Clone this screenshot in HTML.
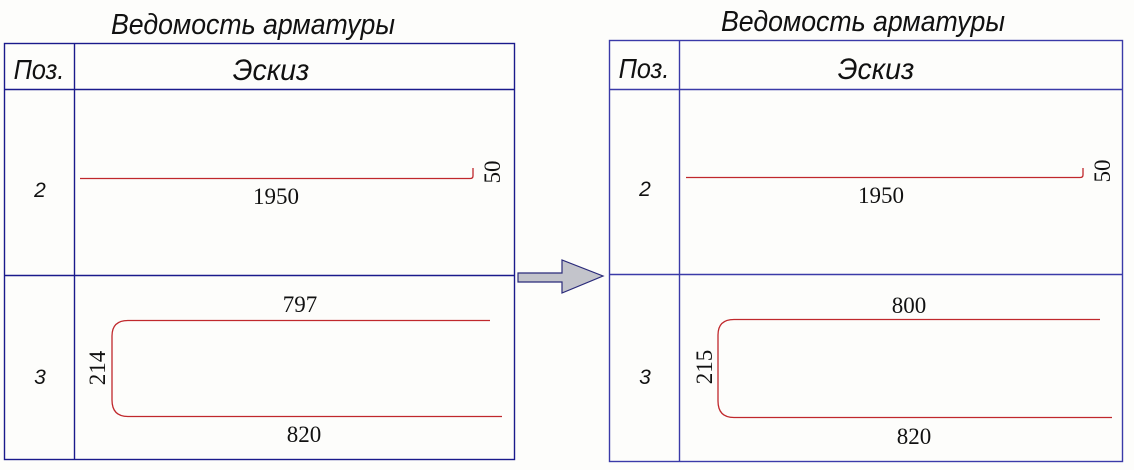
<!DOCTYPE html>
<html><head><meta charset="utf-8"><style>
html,body{margin:0;padding:0;background:#fdfdfb;}
svg{display:block;}
.g{font-family:"Liberation Sans",sans-serif;font-style:italic;fill:#111;}
.n{font-family:"Liberation Serif",serif;fill:#111;font-size:23px;}
</style></head><body>
<svg width="1134" height="470" viewBox="0 0 1134 470" xmlns="http://www.w3.org/2000/svg">
<rect width="1134" height="470" fill="#fdfdfb"/>
<!-- Left table -->
<text class="g" x="253" y="34" font-size="29" text-anchor="middle" transform="translate(253 0) scale(0.92 1) translate(-253 0)">Ведомость арматуры</text>
<g stroke="#1a1a8c" stroke-width="1.4" fill="none">
<rect x="4.5" y="43.5" width="510" height="416"/>
<line x1="74.5" y1="43" x2="74.5" y2="460"/>
<line x1="4" y1="89.5" x2="515" y2="89.5"/>
<line x1="4" y1="275.5" x2="515" y2="275.5"/>
</g>
<text class="g" x="39" y="79" font-size="28" text-anchor="middle" transform="translate(39 0) scale(0.9 1) translate(-39 0)">Поз.</text>
<text class="g" x="271" y="80" font-size="30" text-anchor="middle" transform="translate(271 0) scale(0.95 1) translate(-271 0)">Эскиз</text>
<text class="g" x="40" y="197" font-size="21" text-anchor="middle">2</text>
<text class="g" x="40" y="384" font-size="21" text-anchor="middle">3</text>
<g stroke="#c0282c" stroke-width="1.3" fill="none">
<path d="M80 178.5 H470 Q473 178.5 473 176 V168"/>
<path d="M490 320.5 H128 Q112 320.5 112 336 V400 Q112 416.5 128 416.5 H502"/>
</g>
<text class="n" x="276" y="204" text-anchor="middle">1950</text>
<text class="n" transform="translate(500 172) rotate(-90)" text-anchor="middle">50</text>
<text class="n" x="300" y="312" text-anchor="middle">797</text>
<text class="n" x="304" y="442" text-anchor="middle">820</text>
<text class="n" transform="translate(105 368) rotate(-90)" text-anchor="middle">214</text>
<!-- Arrow -->
<path d="M518 273 H562 V260 L603 276 L562 293 V282 H518 Z" fill="#c3c4cb" stroke="#2a2a7a" stroke-width="1.2"/>
<!-- Right table -->
<text class="g" x="863" y="31" font-size="29" text-anchor="middle" transform="translate(863 0) scale(0.92 1) translate(-863 0)">Ведомость арматуры</text>
<g stroke="#3a3aa8" stroke-width="1.4" fill="none">
<rect x="609.5" y="40.5" width="513" height="421"/>
<line x1="679.5" y1="40" x2="679.5" y2="462"/>
<line x1="609" y1="89.5" x2="1123" y2="89.5"/>
<line x1="609" y1="274.5" x2="1123" y2="274.5"/>
</g>
<text class="g" x="644" y="78" font-size="28" text-anchor="middle" transform="translate(644 0) scale(0.9 1) translate(-644 0)">Поз.</text>
<text class="g" x="876" y="79" font-size="30" text-anchor="middle" transform="translate(876 0) scale(0.95 1) translate(-876 0)">Эскиз</text>
<text class="g" x="645" y="196" font-size="21" text-anchor="middle">2</text>
<text class="g" x="645" y="384" font-size="21" text-anchor="middle">3</text>
<g stroke="#c0282c" stroke-width="1.3" fill="none">
<path d="M686 177.5 H1080 Q1083 177.5 1083 175 V168"/>
<path d="M1100 319.5 H734 Q718 319.5 718 335 V401 Q718 417.5 734 417.5 H1112"/>
</g>
<text class="n" x="881" y="203" text-anchor="middle">1950</text>
<text class="n" transform="translate(1110 171) rotate(-90)" text-anchor="middle">50</text>
<text class="n" x="909" y="313" text-anchor="middle">800</text>
<text class="n" x="914" y="444" text-anchor="middle">820</text>
<text class="n" transform="translate(712 367) rotate(-90)" text-anchor="middle">215</text>
</svg>
</body></html>
